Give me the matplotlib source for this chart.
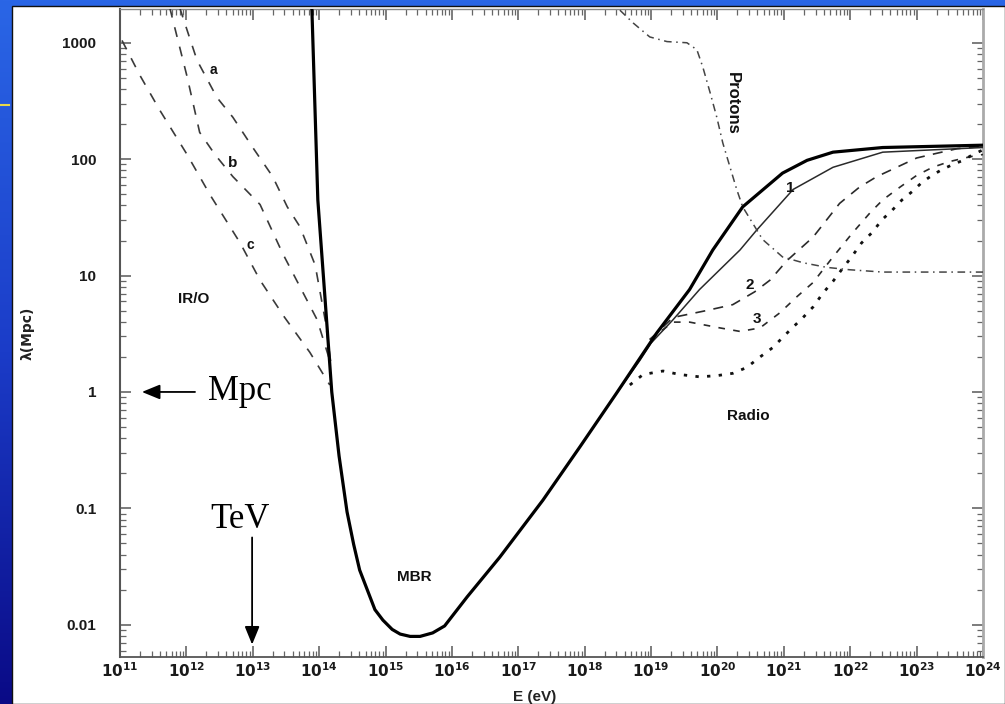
import numpy as np
import matplotlib
matplotlib.use("Agg")
import matplotlib.pyplot as plt
from matplotlib.patches import Rectangle
from matplotlib.ticker import FixedLocator, FixedFormatter, LogLocator, NullFormatter
from matplotlib.colors import LinearSegmentedColormap

# ---------------- data (log10 E [eV], log10 lambda [Mpc]) ----------------
mbr_logE = [13.89, 13.98, 14.09, 14.19, 14.30, 14.42, 14.52, 14.61, 14.84, 14.96,
            15.10, 15.22, 15.37, 15.52, 15.71, 15.89, 16.23, 16.72, 17.37, 17.93,
            18.48, 19.09, 19.58, 19.93, 20.38, 20.98, 21.35, 21.74, 22.49, 24.00]
mbr_logL = [3.30, 1.65, 0.79, 0.00, -0.55, -1.03, -1.31, -1.53, -1.87, -1.96,
            -2.04, -2.08, -2.10, -2.10, -2.07, -2.01, -1.76, -1.42, -0.93, -0.47,
            -0.01, 0.51, 0.88, 1.22, 1.59, 1.88, 1.99, 2.06, 2.10, 2.12]

c1_logE = [18.48, 18.83, 19.00, 19.33, 19.73, 20.34, 20.59, 21.14, 21.74, 22.49, 24.00]
c1_logL = [-0.01, 0.27, 0.42, 0.62, 0.88, 1.22, 1.39, 1.74, 1.93, 2.06, 2.10]

c2_logE = [18.98, 19.33, 19.84, 20.23, 20.56, 20.79, 21.05, 21.44, 21.84, 22.14,
           22.40, 22.70, 23.00, 23.30, 23.61, 24.00]
c2_logL = [0.45, 0.64, 0.70, 0.75, 0.86, 0.96, 1.13, 1.33, 1.62, 1.76,
           1.85, 1.93, 2.01, 2.05, 2.09, 2.11]

c3_logE = [18.98, 19.33, 19.58, 20.04, 20.34, 20.64, 20.94, 21.20, 21.44, 21.74,
           22.04, 22.30, 22.49, 22.75, 23.00, 23.24, 23.50, 23.80, 24.00]
c3_logL = [0.45, 0.60, 0.60, 0.55, 0.52, 0.55, 0.68, 0.82, 0.94, 1.16,
           1.37, 1.54, 1.65, 1.76, 1.86, 1.93, 1.98, 2.02, 2.04]

radio_logE = [18.68, 18.88, 19.18, 19.43, 19.73, 19.99, 20.23, 20.44, 20.64, 20.83,
              21.09, 21.29, 21.44, 21.59, 21.74, 21.87, 22.02, 22.17, 22.33, 22.48,
              22.63, 22.78, 22.93, 23.08, 23.23, 23.38, 23.53, 23.70, 23.85, 24.00]
radio_logL = [0.06, 0.15, 0.18, 0.15, 0.13, 0.14, 0.16, 0.21, 0.30, 0.38,
              0.53, 0.64, 0.73, 0.85, 0.95, 1.05, 1.16, 1.28, 1.37, 1.48,
              1.56, 1.65, 1.72, 1.80, 1.86, 1.91, 1.95, 1.99, 2.04, 2.08]

proton_logE = [18.53, 18.73, 18.98, 19.24, 19.54, 19.69, 19.78, 19.89, 19.99, 20.08,
               20.19, 20.29, 20.38, 20.68, 20.98, 21.29, 21.65, 21.99, 22.49, 24.00]
proton_logL = [3.28, 3.17, 3.05, 3.01, 3.00, 2.94, 2.79, 2.57, 2.36, 2.14,
               1.93, 1.74, 1.59, 1.31, 1.16, 1.11, 1.07, 1.05, 1.03, 1.03]

ira_logE = [11.90, 12.16, 12.46, 12.70, 13.00, 13.30, 13.52, 13.71, 13.94, 14.09, 14.19]
ira_logL = [3.30, 2.85, 2.53, 2.36, 2.10, 1.85, 1.59, 1.42, 1.09, 0.62, 0.19]

irb_logE = [11.75, 12.01, 12.20, 12.43, 12.70, 13.11, 13.45, 13.76, 13.97, 14.16]
irb_logL = [3.30, 2.71, 2.23, 2.04, 1.85, 1.61, 1.19, 0.85, 0.62, 0.27]

irc_logE = [11.03, 11.30, 11.60, 12.01, 12.36, 12.81, 13.11, 13.48, 13.86, 14.16]
irc_logL = [3.02, 2.72, 2.42, 2.04, 1.69, 1.28, 0.96, 0.64, 0.34, 0.06]

x_tick_exps = list(range(11, 25))
y_tick_vals = [0.01, 0.1, 1, 10, 100, 1000]
y_tick_labels = ["0.01", "0.1", "1", "10", "100", "1000"]

# ---------------- figure ----------------
W, H = 1005, 704
fig = plt.figure(figsize=(W / 100, H / 100), dpi=100)

# slide background gradient (blue) + white page
bg = fig.add_axes([0, 0, 1, 1], zorder=-10)
bg.set_axis_off()
cmap = LinearSegmentedColormap.from_list("slide", ["#0a0a86", "#1b3cc8", "#2a66e6"])
grad = np.linspace(0, 1, 256).reshape(-1, 1)
bg.imshow(grad, aspect="auto", cmap=cmap, origin="lower", extent=[0, 1, 0, 1])
bg.set_xlim(0, 1)
bg.set_ylim(0, 1)
bg.add_patch(Rectangle((12 / W, 0), 1 - 12 / W, (H - 6) / H, facecolor="white",
                       edgecolor="#111111", lw=1.0))
bg.plot([0, 9 / W], [1 - 105 / H, 1 - 105 / H], color="#e8d84a", lw=1.5)

left, right = 120 / W, 983 / W
bottom, top = (H - 657) / H, (H - 9) / H
ax = fig.add_axes([left, bottom, right - left, top - bottom])
ax.set_facecolor("white")
ax.set_xscale("log")
ax.set_yscale("log")
ax.set_xlim(1e11, 1e24)
ax.set_ylim(10 ** (-2.277), 10 ** 3.29)

def P(le, ll):
    return 10.0 ** np.asarray(le), 10.0 ** np.asarray(ll)

ink = "#2a2a2a"
ax.plot(*P(mbr_logE, mbr_logL), color="black", lw=2.3, solid_joinstyle="round", zorder=5)
ax.plot(*P(c1_logE, c1_logL), color=ink, lw=1.1, zorder=4)
ax.plot(*P(c2_logE, c2_logL), color=ink, lw=1.2, ls=(0, (6, 5)), zorder=4)
ax.plot(*P(c3_logE, c3_logL), color=ink, lw=1.2, ls=(0, (4, 5)), zorder=4)
ax.plot(*P(radio_logE, radio_logL), color="#111111", lw=2.0, ls=(0, (1.2, 3.0)), zorder=4)
ax.plot(*P(proton_logE, proton_logL), color="#444444", lw=1.1, ls=(0, (5, 3, 1, 3)), zorder=4)
for le, ll in [(ira_logE, ira_logL), (irb_logE, irb_logL), (irc_logE, irc_logL)]:
    ax.plot(*P(le, ll), color="#3a3a3a", lw=1.2, ls=(0, (6, 6)), zorder=4)

# ticks
ax.xaxis.set_major_locator(FixedLocator([10.0 ** e for e in x_tick_exps]))
ax.xaxis.set_major_formatter(FixedFormatter([r"$\mathbf{10^{%d}}$" % e for e in x_tick_exps]))
ax.xaxis.set_minor_locator(LogLocator(base=10, subs=np.arange(2, 10), numticks=100))
ax.xaxis.set_minor_formatter(NullFormatter())
ax.yaxis.set_major_locator(FixedLocator(y_tick_vals))
ax.yaxis.set_major_formatter(FixedFormatter(y_tick_labels))
ax.yaxis.set_minor_locator(LogLocator(base=10, subs=np.arange(2, 10), numticks=100))
ax.yaxis.set_minor_formatter(NullFormatter())

ax.tick_params(which="both", direction="in", top=True, right=True, color="#666666")
ax.tick_params(which="major", length=8, width=1.2)
ax.tick_params(which="minor", length=4, width=0.9)
ax.tick_params(axis="y", which="major", pad=17, labelsize=11, labelcolor="#1a1a1a")
ax.tick_params(axis="x", which="major", pad=3, labelsize=11, labelcolor="#1a1a1a")
for lab in ax.get_yticklabels():
    lab.set_fontweight("bold")
    lab.set_fontfamily("Liberation Sans")

ax.spines["left"].set_color("#555555")
ax.spines["left"].set_linewidth(1.5)
ax.spines["bottom"].set_color("#555555")
ax.spines["bottom"].set_linewidth(1.3)
ax.spines["right"].set_color("#aaaaaa")
ax.spines["right"].set_linewidth(2.0)
ax.spines["top"].set_color("#888888")
ax.spines["top"].set_linewidth(1.0)

# axis labels
ax.text(-0.1066, 0.5, "λ(Mpc)", transform=ax.transAxes, rotation=90, ha="center",
        va="center", fontsize=10, fontweight="bold", family="DejaVu Sans", color="#222222")
ax.text(0.481, -0.0617, "E (eV)", transform=ax.transAxes, ha="center", va="center",
        fontsize=11, fontweight="bold", family="Liberation Sans", color="#222222")

# curve labels
lab_kw = dict(ha="center", va="center", fontweight="bold", family="Liberation Sans",
              color="#111111", zorder=6)
ax.text(10 ** 12.40, 10 ** 2.77, "a", fontsize=10, **lab_kw)
ax.text(10 ** 12.70, 10 ** 1.97, "b", fontsize=11, **lab_kw)
ax.text(10 ** 12.96, 10 ** 1.26, "c", fontsize=10, **lab_kw)
ax.text(10 ** 12.11, 10 ** 0.80, "IR/O", fontsize=11, **lab_kw)
ax.text(10 ** 15.43, 10 ** -1.59, "MBR", fontsize=11, **lab_kw)
ax.text(10 ** 20.47, 10 ** -0.21, "Radio", fontsize=11, **lab_kw)
ax.text(10 ** 21.09, 10 ** 1.75, "1", fontsize=11, **lab_kw)
ax.text(10 ** 20.49, 10 ** 0.92, "2", fontsize=11, **lab_kw)
ax.text(10 ** 20.59, 10 ** 0.63, "3", fontsize=11, **lab_kw)
ax.text(10 ** 20.23, 10 ** 2.48, "Protons", fontsize=12, rotation=-90, **lab_kw)

# slide annotations
ax.annotate("", xy=(10 ** 11.33, 1.0), xytext=(10 ** 12.13, 1.0),
            arrowprops=dict(arrowstyle="-|>,head_length=1.1,head_width=0.45",
                            color="black", lw=1.3, shrinkA=0, shrinkB=0), zorder=7)
ax.text(10 ** 12.33, 1.0, "Mpc", fontsize=25, family="Liberation Serif", ha="left",
        va="center", color="black", zorder=7)
ax.text(10 ** 12.81, 10 ** -1.10, "TeV", fontsize=25, family="Liberation Serif",
        ha="center", va="center", color="black", zorder=7)
ax.annotate("", xy=(10 ** 12.99, 10 ** -2.17), xytext=(10 ** 12.99, 10 ** -1.25),
            arrowprops=dict(arrowstyle="-|>,head_length=1.1,head_width=0.45",
                            color="black", lw=1.3, shrinkA=0, shrinkB=0), zorder=7)

fig.savefig("out.png", dpi=100)
